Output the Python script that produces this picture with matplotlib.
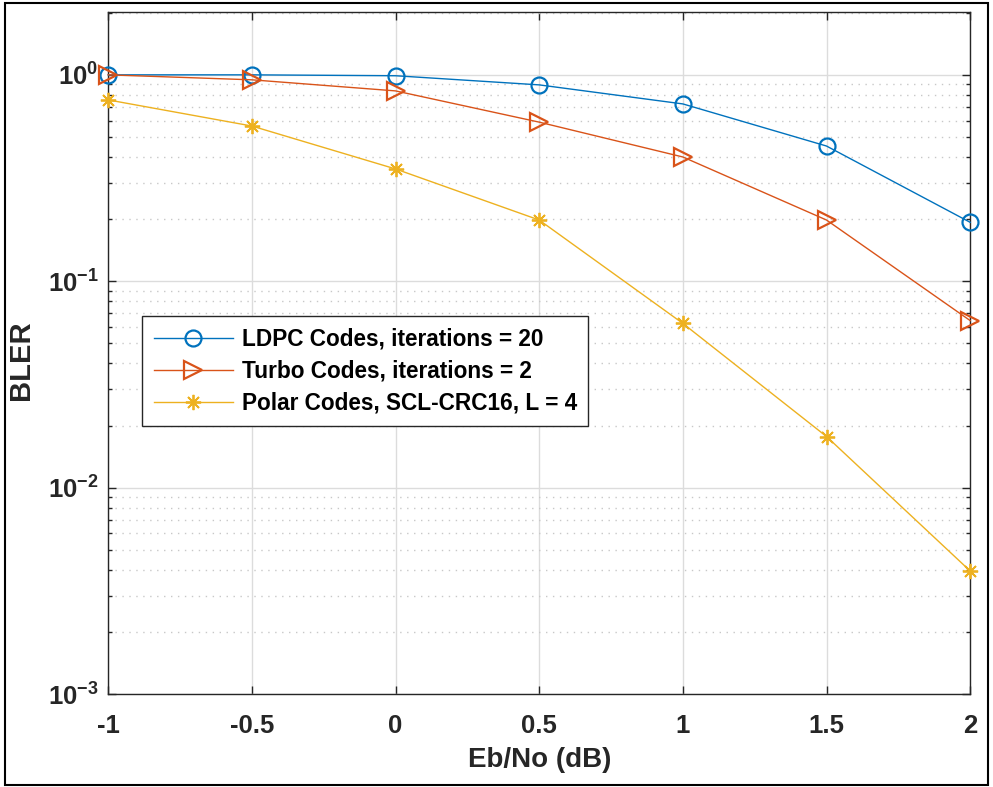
import matplotlib
matplotlib.use("Agg")
import matplotlib.pyplot as plt
from matplotlib.ticker import LogLocator, FixedLocator, NullFormatter
from matplotlib.patches import Rectangle

plt.rcParams['font.family'] = ['Liberation Sans', 'DejaVu Sans']
plt.rcParams['mathtext.fontset'] = 'custom'
plt.rcParams['mathtext.rm'] = 'Liberation Sans'
plt.rcParams['mathtext.bf'] = 'Liberation Sans:bold'
plt.rcParams['mathtext.default'] = 'bf'

ebno = [-1, -0.5, 0, 0.5, 1, 1.5, 2]
ldpc = [1.0, 1.0, 0.99, 0.894, 0.723, 0.452, 0.193]
turbo = [1.0, 0.946, 0.836, 0.59, 0.40, 0.198, 0.0645]
polar = [0.756, 0.565, 0.35, 0.198, 0.0625, 0.0177, 0.00395]
labels = ['LDPC Codes, iterations = 20', 'Turbo Codes, iterations = 2',
          'Polar Codes, SCL-CRC16, L = 4']
xticks = [-1, -0.5, 0, 0.5, 1, 1.5, 2]
xticklabels = ['-1', '-0.5', '0', '0.5', '1', '1.5', '2']

fig = plt.figure(figsize=(9.93, 7.87), dpi=100)
ax = fig.add_axes([0.109, 0.118, 0.868, 0.867])

ax.semilogy(ebno, ldpc, '-o', color='#0072BD', lw=1.0, ms=11.5, mew=1.6,
            mfc='none', label=labels[0], clip_on=False, zorder=3)
ax.semilogy(ebno, turbo, '->', color='#D95319', lw=1.0, ms=12.5, mew=1.6,
            mfc='none', label=labels[1], clip_on=False, zorder=3)
ax.semilogy(ebno, polar, '-', marker=(8, 2, 0), color='#EDB120', lw=1.0, ms=11,
            mew=1.3, label=labels[2], clip_on=False, zorder=3)

ax.set_xlim(-1, 2)
ax.set_ylim(1e-3, 2.02)
ax.set_xticks(xticks)
ax.set_xticklabels(xticklabels)
ax.yaxis.set_major_locator(FixedLocator([1e-3, 1e-2, 1e-1, 1e0]))
ax.set_yticklabels([r'$\mathbf{10^{-3}}$', r'$\mathbf{10^{-2}}$',
                    r'$\mathbf{10^{-1}}$', r'$\mathbf{10^{0}}$'])
ax.yaxis.set_minor_locator(LogLocator(base=10, subs=range(2, 10), numticks=20))
ax.yaxis.set_minor_formatter(NullFormatter())

ax.grid(True, which='major', color='#dcdcdc', lw=1.0, ls='-')
ax.grid(True, which='minor', axis='y', color='#c8c8c8', lw=1.0, ls=(0, (1, 4)))
ax.set_axisbelow(True)

ax.tick_params(which='both', direction='in', top=True, right=True,
               labelsize=18.5, width=1.0, color='#262626')
ax.tick_params(which='major', length=6)
ax.tick_params(which='minor', length=3)
ax.tick_params(axis='x', pad=14)
ax.tick_params(axis='y', pad=7)
for lab in ax.get_xticklabels() + ax.get_yticklabels():
    lab.set_fontweight('bold')
    lab.set_color('#262626')
for sp in ax.spines.values():
    sp.set_color('#262626')
    sp.set_linewidth(1.0)

ax.set_xlabel('Eb/No (dB)', fontsize=20, fontweight='bold', color='#262626')
ax.set_ylabel('BLER', fontsize=21, fontweight='bold', color='#262626')
ax.xaxis.set_label_coords(0.5, -0.077)
ax.yaxis.set_label_coords(-0.085, 0.49)

leg = ax.legend(loc='upper left', bbox_to_anchor=(0.0394, 0.554),
                prop={'weight': 'bold', 'size': 16.3}, frameon=True, fancybox=False,
                edgecolor='#262626', framealpha=1.0, handlelength=3.52,
                borderpad=0.5, labelspacing=0.4, handletextpad=0.38, borderaxespad=0)
leg.get_frame().set_linewidth(1.0)

fig.patches.append(Rectangle((0.005, 0.003), 0.99, 0.993, transform=fig.transFigure,
                             fill=False, edgecolor='black', lw=1.5))

fig.savefig('out.png', dpi=100)
